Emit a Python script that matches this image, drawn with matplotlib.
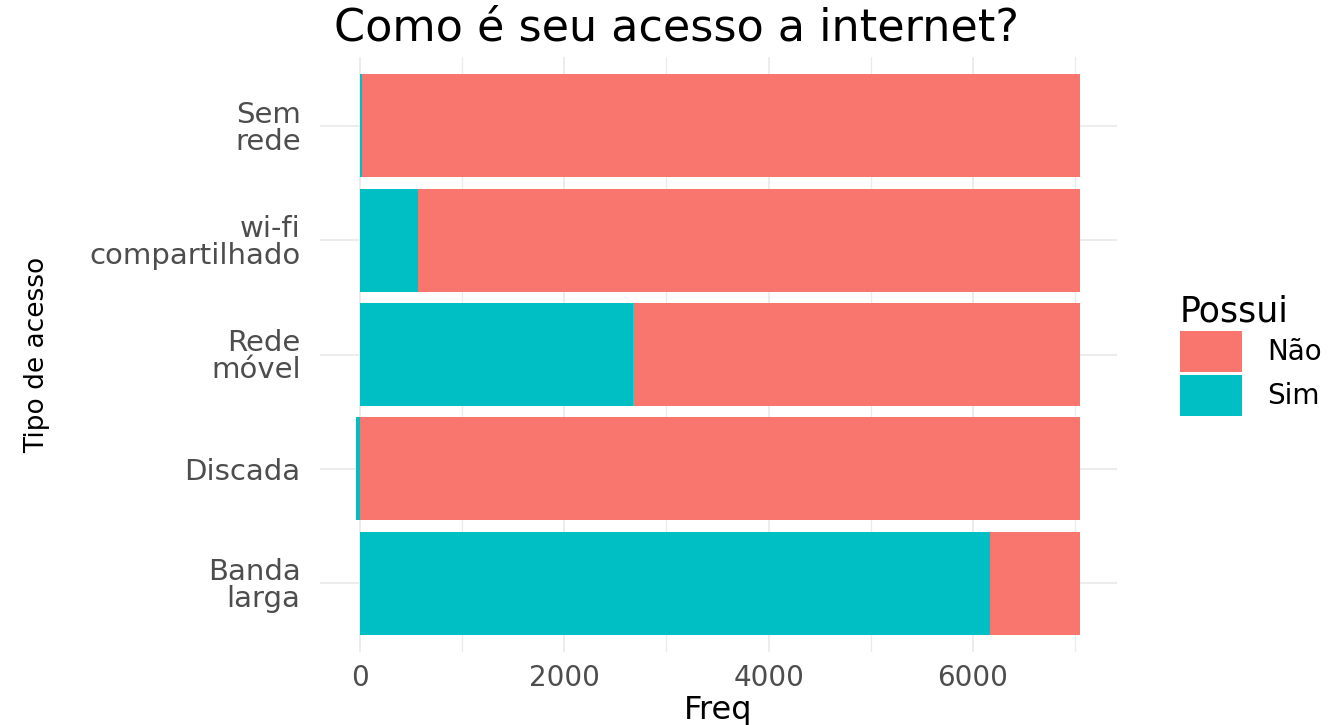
import matplotlib
matplotlib.use("Agg")
import matplotlib.pyplot as plt
import numpy as np
from matplotlib.patches import Patch

categories = ["Banda\nlarga", "Discada", "Rede\nmóvel", "wi-fi\ncompartilhado", "Sem\nrede"]
sim_values = [6166, -35, 2670, 572, 25]
nao_values = [880, 7045, 4375, 6473, 7020]
x_ticks = [0, 2000, 4000, 6000]
x_minor = [1000, 3000, 5000, 7000]

RED = "#F8766D"
TEAL = "#00BFC4"
GRID = "#EBEBEB"
TXT = "#4D4D4D"

plt.rcParams['font.family'] = ['DejaVu Sans']

fig = plt.figure(figsize=(13.4, 7.25), dpi=100)
ax = fig.add_axes([320/1340, 1 - 652/725, (1117-320)/1340, (652-57)/725])

y = np.arange(1, len(categories) + 1)
sim = np.array(sim_values)
nao = np.array(nao_values)
ax.barh(y, sim, height=0.9, color=TEAL, linewidth=0, zorder=2)
ax.barh(y, nao, left=np.where(sim > 0, sim, 0), height=0.9, color=RED, linewidth=0, zorder=2)

ax.set_xlim(-388, 7408)
ax.set_ylim(0.4, 5.6)
ax.set_xticks(x_ticks)
ax.set_xticks(x_minor, minor=True)
ax.set_yticks(y)
ax.set_yticklabels(categories, linespacing=0.95)
ax.set_axisbelow(True)
ax.grid(which="major", color=GRID, linewidth=1.3, zorder=0)
ax.grid(which="minor", axis="x", color=GRID, linewidth=0.9, zorder=0)
for s in ax.spines.values():
    s.set_visible(False)
ax.tick_params(axis="both", which="both", length=0, labelcolor=TXT, labelsize=20)
ax.tick_params(axis="y", pad=14, labelsize=21)
ax.tick_params(axis="x", pad=9)

ax.set_xlabel("Freq", fontsize=23, color="black", labelpad=2)
ax.set_ylabel("Tipo de acesso", fontsize=19, color="black", labelpad=28)
fig.text(677/1340, 1 - 28/725, "Como é seu acesso a internet?", fontsize=32,
         ha="center", va="center", color="black")

handles = [Patch(facecolor=RED, edgecolor="none", label="Não"),
           Patch(facecolor=TEAL, edgecolor="none", label="Sim")]
leg = fig.legend(handles=handles, title="Possui", loc="upper left",
                 bbox_to_anchor=(1180/1340, 1 - 294/725), frameon=False,
                 fontsize=20, title_fontsize=25, borderpad=0, borderaxespad=0,
                 handlelength=2.23, handleheight=1.9, labelspacing=0.1,
                 handletextpad=0.9, alignment="left")

fig.savefig("out.png", dpi=100)
